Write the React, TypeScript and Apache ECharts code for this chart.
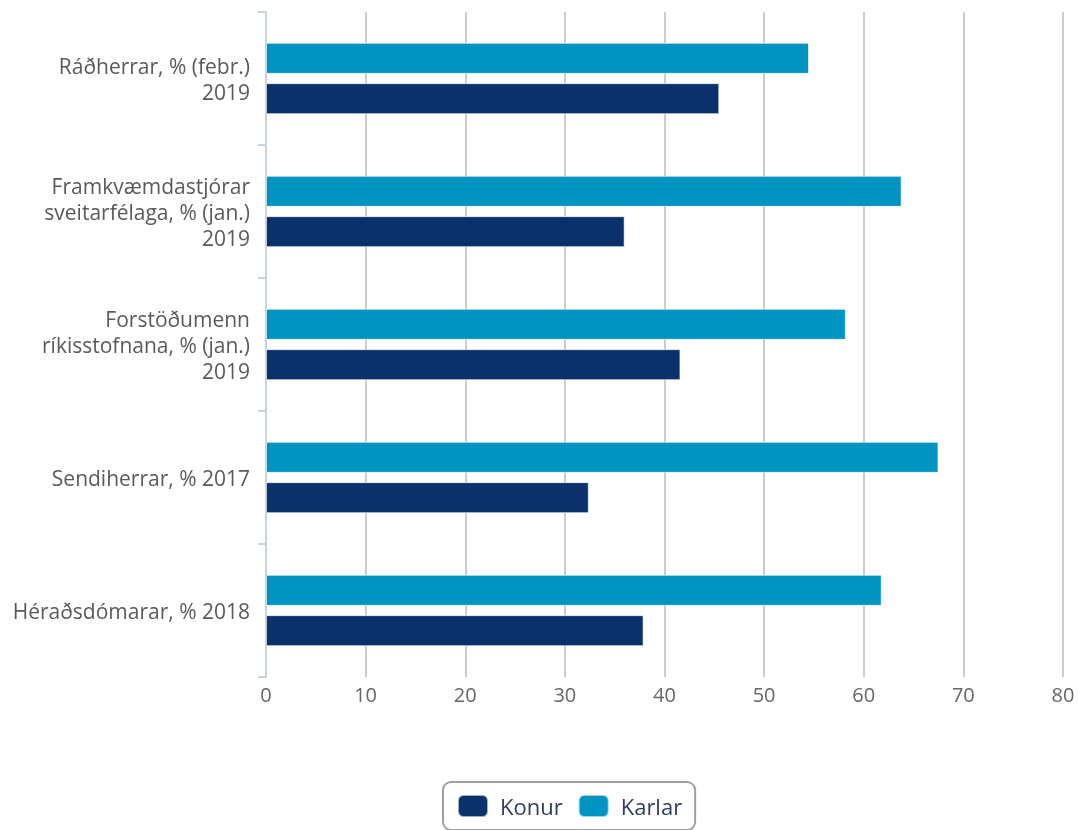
import React, { useEffect, useRef } from "react";
import * as echarts from "echarts";

const categories = [
  "Ráðherrar, % (febr.)\n2019",
  "Framkvæmdastjórar\nsveitarfélaga, % (jan.)\n2019",
  "Forstöðumenn\nríkisstofnana, % (jan.)\n2019",
  "Sendiherrar, % 2017",
  "Héraðsdómarar, % 2018",
];
const konur = [45.5, 36, 41.6, 32.4, 37.9];
const karlar = [54.5, 63.8, 58.2, 67.5, 61.8];
const xTicks = { min: 0, max: 80, interval: 10 };

const FONT = "'Open Sans', 'Noto Sans', sans-serif";

export default function App() {
  const ref = useRef<HTMLDivElement>(null);
  useEffect(() => {
    if (!ref.current) return;
    const chart = echarts.init(ref.current, undefined, { renderer: "svg" });
    chart.setOption({
      animation: false,
      textStyle: { fontFamily: FONT },
      grid: { left: 266, right: 15, top: 12, bottom: 153, containLabel: false },
      legend: {
        data: ["Konur", "Karlar"],
        left: 443,
        top: 782,
        padding: [12, 13, 12, 14],
        borderColor: "#a0a0a0",
        borderWidth: 2,
        borderRadius: 8,
        itemWidth: 30,
        itemHeight: 22,
        itemGap: 15,
        icon: "roundRect",
        textStyle: {
          fontSize: 22,
          color: "#2e3f5f",
          fontFamily: FONT,
          padding: [0, 0, 0, 7],
        },
      },
      xAxis: {
        type: "value",
        min: xTicks.min,
        max: xTicks.max,
        interval: xTicks.interval,
        axisLine: { show: false },
        axisTick: { show: false },
        splitLine: { lineStyle: { color: "#cccccc", width: 2 } },
        axisLabel: { color: "#666666", fontSize: 20, margin: 7, fontFamily: FONT },
      },
      yAxis: {
        type: "category",
        inverse: true,
        data: categories,
        axisLine: { lineStyle: { color: "#c6d3e2", width: 2 } },
        axisTick: { show: true, length: 8, lineStyle: { color: "#c6d3e2", width: 2 } },
        axisLabel: {
          color: "#5a5a5a",
          fontSize: 21,
          lineHeight: 26,
          margin: 16,
          fontFamily: FONT,
          align: "right",
        },
      },
      series: [
        {
          name: "Karlar",
          type: "bar",
          data: karlar,
          barWidth: 31,
          barGap: "30%",
          itemStyle: { color: "#0094c3", borderColor: "rgba(255,255,255,0.6)", borderWidth: 1 },
        },
        {
          name: "Konur",
          type: "bar",
          data: konur,
          barWidth: 31,
          barGap: "30%",
          itemStyle: { color: "#0b316c", borderColor: "rgba(255,255,255,0.6)", borderWidth: 1 },
        },
      ],
    });
    return () => chart.dispose();
  }, []);
  return (
    <div
      ref={ref}
      style={{ position: "fixed", left: 0, top: 0, width: 1078, height: 830 }}
    />
  );
}
